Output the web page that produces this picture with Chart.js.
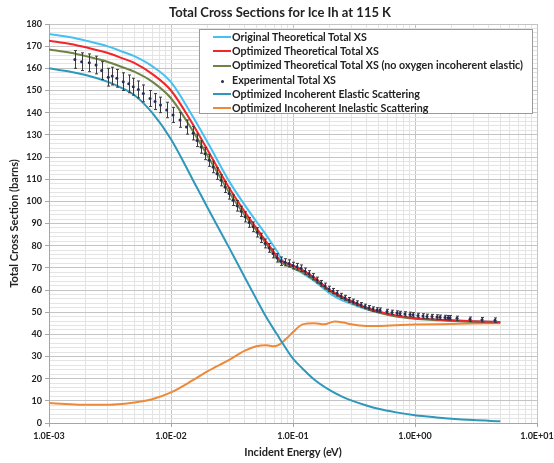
<!DOCTYPE html>
<html>
<head>
<meta charset="utf-8">
<script src="https://cdn.jsdelivr.net/npm/chart.js@4/dist/chart.umd.min.js"></script>
<style>
  html,body{margin:0;padding:0;background:#fff;}
  #wrap{position:relative;width:554px;height:463px;overflow:hidden;font-family:Lato,"Open Sans",sans-serif;}
  #c{position:absolute;left:0;top:0;}
  #title{position:absolute;left:0;width:560px;top:4px;text-align:center;font-weight:bold;font-size:13px;color:#222;}
  #legend{position:absolute;left:199px;top:29px;width:334px;height:85px;background:#fff;border:1px solid #9a9a9a;box-sizing:border-box;}
  .li{position:absolute;left:13px;height:14px;line-height:14px;font-size:10.7px;font-weight:bold;color:#222;white-space:nowrap;}
  .sw{display:inline-block;width:18px;height:2px;vertical-align:middle;margin-right:1px;position:relative;top:-1px;}
  .dot{display:inline-block;width:18px;text-align:center;vertical-align:middle;margin-right:1px;}
  .dot i{display:inline-block;width:3px;height:3px;border-radius:50%;background:#2a2a5a;position:relative;top:-2px;}
</style>
</head>
<body>
<div id="wrap">
  <canvas id="c" width="554" height="463"></canvas>
  <div id="title">Total Cross Sections for Ice Ih at 115 K</div>
  <div id="legend"></div>
</div>
<script>
// ---------------- DATA ----------------
const theoryE = [0.001,0.0015,0.002,0.003,0.004,0.005,0.007,0.01,0.015,0.02,0.03,0.04,0.05,0.06,0.07,0.075,0.08,0.1,0.12,0.15,0.2,0.25,0.3,0.4,0.5,0.7,1,1.5,2,3,5];
const originalTotal = [175.5,174,172.5,170,167.5,165.5,161,153.8,138.5,126.5,109,98.5,91,85,79.5,77,74,70,67.5,64,58.5,55.5,53.8,51.3,49.9,48.3,47.2,46.6,46.2,45.9,45.5];
const optimizedTotal = [172.5,171,169.5,167,164.5,162.5,157.5,150,135,123,106,95.5,88,82,77,74.5,73.2,71,69,65.5,60,57,55,52,50.3,48.5,47.3,46.7,46.3,45.9,45.6];
const noOxygenTotal = [168.5,167,165.5,163,160.5,158.5,154,146.5,132,120.5,104,94,87,81,76,73.8,72.3,70,68,64.5,59.5,56.5,54.5,51.5,49.8,48,47,46.4,46,45.6,45.3];
const incElastic = [160,158.5,157,154,151,148,140,128,110,97,79,66,56,48,42,39.5,37,29,24.5,19.5,14.8,12,10.2,7.9,6.4,4.8,3.5,2.5,1.9,1.3,0.8];

const inelE = [0.001,0.0015,0.002,0.003,0.004,0.005,0.007,0.01,0.015,0.02,0.03,0.04,0.05,0.06,0.065,0.07,0.075,0.08,0.09,0.1,0.12,0.15,0.18,0.22,0.26,0.3,0.4,0.5,0.7,1,2,3,5];
const incInelastic = [9.0,8.5,8.2,8.2,8.6,9.2,10.7,13.8,19.2,23.4,28.5,32.5,34.6,35.1,34.8,34.6,35.0,36.0,38.5,41,44.5,45,44.5,45.8,45.3,44.5,43.8,43.8,44.1,44.4,44.7,44.9,45.0];

const expE = [0.00163,0.00185,0.00214,0.00243,0.0027,0.00306,0.0033,0.0036,0.00406,0.0045,0.00491,0.0054,0.00593,0.00673,0.0074,0.0082,0.00922,0.0104,0.01185,0.0134,0.0152,
  0.01633,0.01762,0.019,0.0205,0.0221,0.0238,0.0257,0.0277,0.0299,0.0322,0.0348,0.0375,0.0404,0.0436,0.047,0.0507,0.0547,0.059,0.0636,0.0686,0.0739,0.0797,
  0.086,0.0927,0.1,0.1078,0.1163,0.1254,0.1352,0.1458,0.1573,0.1696,0.1829,0.1973,0.2128,0.2295,0.2474,0.2668,0.2877,0.3103,0.3346,0.3609,0.3892,0.4198,0.4527,0.4882,
  0.5165,0.5895,0.6479,0.7122,0.7534,0.828,0.91,0.963,1.058,1.163,1.254,1.378,1.515,1.603,1.762,1.864,1.936,2.21,2.824,3.542,4.527];
const expXS = [164,163,162.5,161.5,159,156,156.5,155.5,154,153,151.7,150.5,148.7,146.4,145,143.5,141.2,139,136.7,133.5,130.7,
  127.5,124.5,121.5,118.5,115.5,112.5,109.5,106.5,103.5,100.5,98,95.5,93,90.5,88.5,86,83.5,81,79,76.5,74.5,73,
  72.5,72,71,70.5,69.8,68.5,67.3,66,64.5,63,61.8,60.5,59.5,58.5,57.3,56.5,55.5,54.8,54,53.3,52.6,52,51.4,51,
  50.9,50.3,49.9,49.6,49.4,49.2,49.0,48.8,48.5,48.3,48.1,48,47.8,47.7,47.6,47.5,47.5,47.2,46.8,46.6,46.4];
const expErr = [4,4,4,4,4,4,4,4,4,4,3.8,3.8,3.8,3.6,3.6,3.5,3.5,3.4,3.3,3.2,3,
  2.8,2.8,2.7,2.7,2.6,2.6,2.5,2.5,2.5,2.4,2.4,2.3,2.3,2.2,2.2,2.1,2.1,2,2,2,1.9,1.9,
  1.6,1.6,1.5,1.5,1.5,1.4,1.4,1.4,1.3,1.3,1.3,1.2,1.2,1.2,1.2,1.1,1.1,1.1,1.1,1,1,1,1,1,
  1,1,1,1,1,1,1,1,1,1,1,1,1,1,1,1,1,1,1,1,1];

const xDecades = [0.001,0.01,0.1,1,10];
const xTickLabels = ['1.0E-03','1.0E-02','1.0E-01','1.0E+00','1.0E+01'];

const seriesNames = ['Original Theoretical Total XS','Optimized Theoretical Total XS','Optimized Theoretical Total XS (no oxygen incoherent elastic)','Experimental Total XS','Optimized Incoherent Elastic Scattering','Optimized Incoherent Inelastic Scattering'];
const seriesColors = ['#45c1f1','#f0262b','#6f8345','#2a2a5a','#2e98bb','#ec8a3a'];

// ---------------- BUILD ----------------
const pts = (xs, ys) => xs.map((x,i)=>({x, y: ys[i]}));
const xMinorTicks = [];
for (let d = 0; d < 4; d++) for (let k = 1; k <= 9; k++) xMinorTicks.push(Math.round(k*xDecades[d]*1e6)/1e6);
xMinorTicks.push(10);

const lineDS = (i, data, order) => ({
  label: seriesNames[i], data, borderColor: seriesColors[i], backgroundColor: seriesColors[i],
  borderWidth: 2, pointRadius: 0, fill:false, cubicInterpolationMode:'monotone', order
});

const EXP = 3;
const errorBars = {
  id:'errorBars',
  afterDatasetsDraw(chart){
    const ctx = chart.ctx, xs = chart.scales.x, ys = chart.scales.y;
    ctx.save();
    ctx.strokeStyle = '#3c3c3c'; ctx.lineWidth = 1;
    expE.forEach((e,i)=>{
      const px = Math.round(xs.getPixelForValue(e)) + 0.5;
      const t = ys.getPixelForValue(expXS[i] + expErr[i]);
      const b = ys.getPixelForValue(expXS[i] - expErr[i]);
      ctx.beginPath();
      ctx.moveTo(px, t); ctx.lineTo(px, b);
      ctx.moveTo(px-1.5, t); ctx.lineTo(px+1.5, t);
      ctx.moveTo(px-1.5, b); ctx.lineTo(px+1.5, b);
      ctx.stroke();
    });
    ctx.restore();
    const meta = chart.getDatasetMeta(EXP);
    ctx.save(); ctx.fillStyle = seriesColors[EXP];
    meta.data.forEach(p=>{ ctx.beginPath(); ctx.arc(p.x, p.y, 1.5, 0, Math.PI*2); ctx.fill(); });
    ctx.restore();
  }
};

const tickFont = {family:'Lato, "Open Sans", sans-serif', size:9, weight:'bold'};
const titleFont = {family:'Lato, "Open Sans", sans-serif', size:11, weight:'bold'};

new Chart(document.getElementById('c'), {
  type:'line',
  data:{
    datasets:[
      lineDS(1, pts(theoryE, optimizedTotal), 1),
      lineDS(2, pts(theoryE, noOxygenTotal), 2),
      lineDS(0, pts(theoryE, originalTotal), 3),
      {label: seriesNames[3], data: pts(expE, expXS), showLine:false, pointRadius:0, borderColor:seriesColors[3], backgroundColor:seriesColors[3], order:0},
      lineDS(4, pts(theoryE, incElastic), 4),
      lineDS(5, pts(inelE, incInelastic), 5)
    ]
  },
  options:{
    responsive:false, animation:false, devicePixelRatio:1,
    layout:{padding:{left:0, right:17, top:24, bottom:0}},
    plugins:{legend:{display:false}, tooltip:{enabled:false}, title:{display:false}},
    scales:{
      x:{
        type:'logarithmic', min:0.001, max:10,
        afterBuildTicks: ax => { ax.ticks = xMinorTicks.map(v=>({value:v})); },
        afterFit: s => { s.height = 40; s.paddingLeft = 0; s.paddingRight = 0; },
        ticks:{
          autoSkip:false, maxRotation:0, minRotation:0, padding:4, color:'#222', font:tickFont,
          callback: v => { const i = xDecades.findIndex(d => Math.abs(d - v) < d*1e-6); return i >= 0 ? xTickLabels[i] : ''; }
        },
        grid:{
          color: c => (c.tick && xDecades.some(d => Math.abs(d - c.tick.value) < d*1e-6)) ? '#c4c4c4' : '#e4e4e4',
          tickColor: c => (c.tick && xDecades.some(d => Math.abs(d - c.tick.value) < d*1e-6)) ? '#a6a6a6' : 'rgba(0,0,0,0)',
          tickLength:4, lineWidth:1
        },
        border:{color:'#a6a6a6', width:1},
        title:{display:true, text:'Incident Energy (eV)', color:'#222', font:titleFont, padding:{top:0,bottom:4}}
      },
      y:{
        type:'linear', min:0, max:180,
        afterFit: s => { s.width = 49; s.paddingTop = 0; s.paddingBottom = 0; },
        ticks:{
          stepSize:2, autoSkip:false, padding:3, color:'#222', font:tickFont,
          callback: v => (v % 10 === 0) ? String(v) : ''
        },
        grid:{
          color: c => (c.tick && c.tick.value % 10 === 0) ? '#c4c4c4' : '#e4e4e4',
          tickColor: c => (c.tick && c.tick.value % 10 === 0) ? '#a6a6a6' : 'rgba(0,0,0,0)',
          tickLength:4, lineWidth:1
        },
        border:{color:'#a6a6a6', width:1},
        title:{display:true, text:'Total Cross Section (barns)', color:'#222', font:titleFont, padding:{top:8,bottom:0}}
      }
    }
  },
  plugins:[errorBars]
});

// legend (HTML, real text)
const legendTops = [0,14.2,28.4,42.6,56.8,71];
const lg = document.getElementById('legend');
seriesNames.forEach((name,i)=>{
  const d = document.createElement('div');
  d.className = 'li';
  d.style.top = legendTops[i] + 'px';
  const sw = i === EXP ? '<span class="dot"><i></i></span>' : '<span class="sw" style="background:'+seriesColors[i]+'"></span>';
  d.innerHTML = sw + name;
  lg.appendChild(d);
});
</script>
</body>
</html>
